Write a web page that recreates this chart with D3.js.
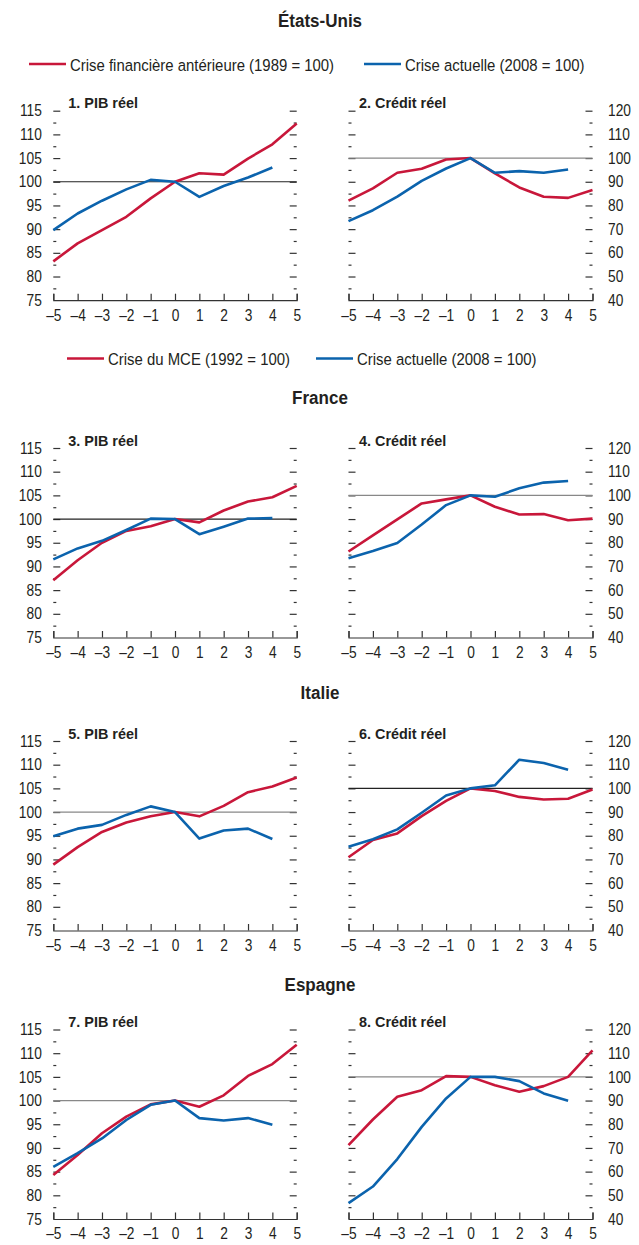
<!DOCTYPE html>
<html lang="fr">
<head>
<meta charset="utf-8">
<title>PIB réel et crédit réel : crises antérieures et crise actuelle</title>
<script src="https://cdn.jsdelivr.net/npm/d3@7"></script>
<style>
  html, body { margin: 0; padding: 0; background: #ffffff; }
  svg { display: block; }
  text { font-family: "Liberation Sans", Arial, sans-serif; fill: #231f20; }
  .country { font-size: 18.5px; font-weight: bold; }
  .legend-label { font-size: 16.5px; }
  .panel-title { font-size: 15.5px; font-weight: bold; }
  .tick text { font-size: 16px; fill: #231f20; }
  .tick line, .domain { stroke: #333; stroke-width: 1.2px; }
</style>
</head>
<body>
<div id="chart"></div>
<script>
// Years relative to the crisis year (t = 0)
const years = [-5, -4, -3, -2, -1, 0, 1, 2, 3, 4, 5];

// Index values, crisis year = 100
const usGdp1989    = [83.2, 87.0, 89.8, 92.6, 96.5, 100, 101.8, 101.5, 104.9, 107.9, 112.3];
const usGdp2008    = [89.8, 93.3, 96.0, 98.4, 100.4, 100, 96.8, 99.1, 100.9, 103.0];
const usCredit1989 = [82.0, 87.2, 93.8, 95.5, 99.4, 100, 93.5, 87.6, 83.7, 83.2, 86.5];
const usCredit2008 = [73.4, 78.0, 83.7, 90.4, 95.6, 100, 93.8, 94.5, 93.8, 95.2];

const frGdp1992    = [87.1, 91.3, 95.0, 97.5, 98.5, 100, 99.3, 101.8, 103.7, 104.6, 107.0];
const frGdp2008    = [91.5, 93.8, 95.4, 97.7, 100.1, 100, 96.8, 98.4, 100.1, 100.2];
const frCredit1992 = [76.3, 83.1, 89.9, 96.6, 98.3, 100, 95.2, 91.9, 92.1, 89.5, 90.2];
const frCredit2008 = [73.5, 76.5, 79.9, 87.7, 95.9, 100, 99.4, 103.0, 105.4, 106.1];

const itGdp1992    = [88.9, 92.6, 95.8, 97.8, 99.1, 100, 99.1, 101.3, 104.2, 105.4, 107.3];
const itGdp2008    = [94.9, 96.5, 97.3, 99.4, 101.2, 100, 94.4, 96.1, 96.5, 94.3];
const itCredit1992 = [70.9, 78.2, 81.0, 88.3, 94.7, 100, 98.9, 96.4, 95.3, 95.6, 99.5];
const itCredit2008 = [75.4, 78.5, 82.7, 89.7, 97.0, 100, 101.3, 112.1, 110.7, 107.9];

const esGdp1992    = [84.3, 88.5, 93.1, 96.6, 99.2, 100, 98.7, 101.1, 105.2, 107.7, 111.8];
const esGdp2008    = [86.0, 88.9, 92.0, 95.9, 99.1, 100, 96.3, 95.8, 96.3, 94.9];
const esCredit1992 = [71.2, 82.0, 91.6, 94.4, 100.3, 100, 96.5, 93.7, 96.1, 100.0, 111.2];
const esCredit2008 = [46.7, 53.7, 65.3, 78.9, 90.9, 100, 100.0, 98.2, 93.0, 89.9];

// Axis ticks
const gdpMajorTicks    = [80, 85, 90, 95, 100, 105, 110, 115];
const gdpMinorTicks    = [77.5, 82.5, 87.5, 92.5, 97.5, 102.5, 107.5, 112.5];
const gdpLabelTicks    = [75, 80, 85, 90, 95, 100, 105, 110, 115];
const creditMajorTicks = [50, 60, 70, 80, 90, 100, 110, 120];
const creditMinorTicks = [45, 55, 65, 75, 85, 95, 105, 115];
const creditLabelTicks = [40, 50, 60, 70, 80, 90, 100, 110, 120];

// Headings and legends
const countries = ["États-Unis", "France", "Italie", "Espagne"];
const panelTitles = ["1. PIB réel", "2. Crédit réel", "3. PIB réel", "4. Crédit réel",
                     "5. PIB réel", "6. Crédit réel", "7. PIB réel", "8. Crédit réel"];
const legendUS     = ["Crise financière antérieure (1989 = 100)", "Crise actuelle (2008 = 100)"];
const legendEurope = ["Crise du MCE (1992 = 100)", "Crise actuelle (2008 = 100)"];

const RED = "#c8173a";
const BLUE = "#0b63ad";

const W = 639, H = 1245;
const svg = d3.select("#chart").append("svg").attr("width", W).attr("height", H);

// Layout
const colX = [[53.3, 296.7], [348.5, 592.5]];
const rowTop = [110.7, 448, 741, 1029.5];
const plotH = 189.5;
const countryBaseline = [27, 404, 699, 991];

// Condensed look: narrow the glyphs horizontally around each text's anchor point
function condense(sel, k) {
  sel.each(function () {
    const t = d3.select(this);
    const x = +t.attr("x") || 0, y = +t.attr("y") || 0;
    t.attr("x", 0).attr("y", 0)
      .attr("transform", `translate(${x},${y}) scale(${k},1)`);
  });
}

const seriesByPanel = [
  [usGdp1989, usGdp2008], [usCredit1989, usCredit2008],
  [frGdp1992, frGdp2008], [frCredit1992, frCredit2008],
  [itGdp1992, itGdp2008], [itCredit1992, itCredit2008],
  [esGdp1992, esGdp2008], [esCredit1992, esCredit2008]
];
const refLineColor = ["#222", "#888", "#222", "#888", "#888", "#222", "#888", "#888"];

// Country headings
countries.forEach((name, i) => {
  svg.append("text").attr("class", "country")
    .attr("x", 320).attr("y", countryBaseline[i])
    .attr("text-anchor", "middle").text(name)
    .call(condense, 0.92);
});

// Legends
function drawLegend(labels, y, xs) {
  const g = svg.append("g").attr("class", "legend");
  [RED, BLUE].forEach((c, i) => {
    g.append("line").attr("x1", xs[i]).attr("x2", xs[i] + 37)
      .attr("y1", y).attr("y2", y)
      .attr("stroke", c).attr("stroke-width", 2.6);
    g.append("text").attr("class", "legend-label")
      .attr("x", xs[i] + 41).attr("y", y + 6.5).text(labels[i])
      .call(condense, 0.905);
  });
}
drawLegend(legendUS, 64, [29, 364]);
drawLegend(legendEurope, 358.5, [67, 316]);

const fmt = d => (d < 0 ? "\u2013" + Math.abs(d) : String(d));

seriesByPanel.forEach((series, p) => {
  const row = Math.floor(p / 2), col = p % 2;
  const isCredit = col === 1;
  const [x0, x1] = colX[col];
  const top = rowTop[row], bottom = top + plotH;

  const x = d3.scaleLinear().domain([-5, 5]).range([x0, x1]);
  const y = d3.scaleLinear().domain(isCredit ? [40, 120] : [75, 115]).range([bottom, top]);

  const g = svg.append("g");

  // Panel title
  g.append("text").attr("class", "panel-title")
    .attr("x", x0 + (isCredit ? 10.5 : 15)).attr("y", top - 2.5)
    .text(panelTitles[p])
    .call(condense, 0.93);

  const major = isCredit ? creditMajorTicks : gdpMajorTicks;
  const minor = isCredit ? creditMinorTicks : gdpMinorTicks;
  const labels = isCredit ? creditLabelTicks : gdpLabelTicks;

  // Tick marks on both sides, pointing inward
  const sideAxes = [
    { gen: d3.axisLeft, at: x0 },
    { gen: d3.axisRight, at: x1 }
  ];
  sideAxes.forEach(s => {
    g.append("g").attr("transform", `translate(${s.at},0)`)
      .call(s.gen(y).tickValues(major).tickSize(-7).tickFormat(""))
      .call(a => a.select(".domain").remove());
    g.append("g").attr("transform", `translate(${s.at},0)`)
      .call(s.gen(y).tickValues(minor).tickSize(-3).tickFormat(""))
      .call(a => a.select(".domain").remove());
  });

  // Value labels: left for GDP, right for credit
  const labelAxis = isCredit
    ? d3.axisRight(y).tickValues(labels).tickSize(0).tickPadding(15.5).tickFormat(d3.format("d"))
    : d3.axisLeft(y).tickValues(labels).tickSize(0).tickPadding(11.5).tickFormat(d3.format("d"));
  g.append("g").attr("transform", `translate(${isCredit ? x1 : x0},0)`)
    .call(labelAxis)
    .call(a => a.select(".domain").remove())
    .call(a => a.selectAll(".tick line").remove())
    .call(a => a.selectAll(".tick text").call(condense, 0.86));

  // Reference line at 100
  g.append("line")
    .attr("x1", x0).attr("x2", x1)
    .attr("y1", y(100)).attr("y2", y(100))
    .attr("stroke", refLineColor[p]).attr("stroke-width", 1.2);

  // Bottom axis with inward ticks
  g.append("g").attr("transform", `translate(0,${bottom})`)
    .call(d3.axisBottom(x).tickValues(years).tickSize(-6.5).tickSizeOuter(-6.5)
      .tickPadding(9).tickFormat(fmt))
    .call(a => a.select(".domain").attr("fill", "none"))
    .call(a => a.selectAll(".tick text").call(condense, 0.86));

  // Series lines
  const line = d3.line().x((d, i) => x(years[i])).y(d => y(d));
  [RED, BLUE].forEach((c, i) => {
    g.append("path").datum(series[i])
      .attr("fill", "none").attr("stroke", c)
      .attr("stroke-width", 2.6).attr("stroke-linejoin", "round")
      .attr("d", line);
  });
});
</script>
</body>
</html>
